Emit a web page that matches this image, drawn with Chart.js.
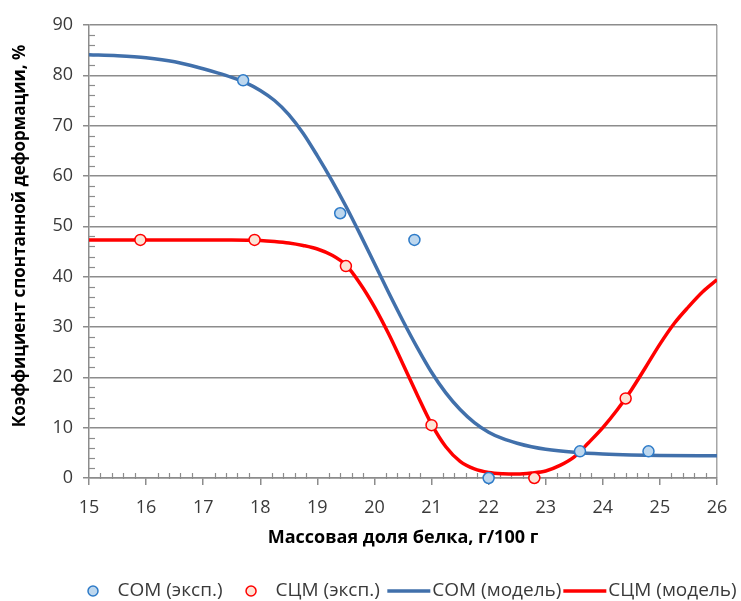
<!DOCTYPE html>
<html><head><meta charset="utf-8">
<script src="https://cdn.jsdelivr.net/npm/chart.js@4.4.1/dist/chart.umd.min.js"></script>
<style>html,body{margin:0;padding:0;background:#fff}canvas{display:block}</style>
</head><body>
<canvas id="c" width="741" height="601"></canvas>
<script>
// ---- data ----
const xTickValues = [15,16,17,18,19,20,21,22,23,24,25,26];
const yTickValues = [0,10,20,30,40,50,60,70,80,90];
const seriesNames = ['СОМ (эксп.)','СЦМ (эксп.)','СОМ (модель)','СЦМ (модель)'];
const xTitle = 'Массовая доля белка, г/100 г';
const yTitle = 'Коэффициент спонтанной деформации, %';

const comExpX = [17.7, 19.4, 20.7, 22.0, 23.6, 24.8];
const comExpY = [79.0, 52.6, 47.3, 0.0, 5.3, 5.3];
const scmExpX = [15.9, 17.9, 19.5, 21.0, 22.8, 24.4];
const scmExpY = [47.3, 47.3, 42.1, 10.5, 0.0, 15.8];

const comModelX = [15,15.5,16,16.5,17,17.25,17.5,17.75,18,18.25,18.5,18.75,19,19.25,19.5,19.75,20,20.25,20.5,20.75,21,21.25,21.5,21.75,22,22.25,22.5,22.75,23,23.5,24,24.5,25,26];
const comModelY = [84.1,83.9,83.5,82.7,81.3,80.5,79.6,78.5,77.0,75.0,72.2,68.5,64.0,59.2,54.0,48.4,42.6,36.8,31.2,25.9,21.0,16.9,13.6,11.0,9.1,7.8,6.9,6.2,5.7,5.1,4.75,4.55,4.45,4.4];

const scmModelX = [15,16,17,17.5,18,18.25,18.5,18.75,19,19.25,19.5,19.75,20,20.25,20.5,20.75,21,21.25,21.5,21.75,22,22.25,22.5,22.75,23,23.25,23.5,23.75,24,24.25,24.5,24.75,25,25.25,25.5,25.75,26];
const scmModelY = [47.3,47.3,47.3,47.3,47.2,47.0,46.7,46.2,45.5,44.3,42.3,38.6,34.0,28.6,22.6,16.5,10.7,6.2,3.3,1.8,1.1,0.85,0.8,1.0,1.4,2.5,4.2,7.0,10.0,13.5,17.5,22.0,26.6,30.7,34.0,37.0,39.4];

const zip = (xs, ys) => xs.map((x, i) => ({x, y: ys[i]}));

// ---- styles ----
const FONT = "'Open Sans', 'Liberation Sans', sans-serif";
const AXIS_GRAY = '#8c8c8c';
const TEXT = '#3a3a3a';

const minorTicks = {
  id: 'minorTicks',
  beforeDatasetsDraw(chart) {
    const {ctx, scales: {x, y}} = chart;
    ctx.save();
    ctx.strokeStyle = AXIS_GRAY;
    ctx.lineWidth = 1.2;
    const y0 = y.getPixelForValue(0);
    for (let i = 0; i <= 55; i++) {
      if (i % 5 === 0) continue;
      const px = Math.round(x.getPixelForValue(15 + i * 0.2)) + 0.5;
      ctx.beginPath(); ctx.moveTo(px, y0 - 5); ctx.lineTo(px, y0 + 1); ctx.stroke();
    }
    const x0 = x.getPixelForValue(15);
    for (let v = 0; v <= 90; v += 2) {
      if (v % 10 === 0) continue;
      const py = Math.round(y.getPixelForValue(v)) + 0.5;
      ctx.beginPath(); ctx.moveTo(x0, py); ctx.lineTo(x0 + 6, py); ctx.stroke();
    }
    ctx.restore();
  }
};

const customText = {
  id: 'customText',
  afterDraw(chart) {
    const {ctx} = chart;
    ctx.save();
    // y title
    ctx.translate(20, 236);
    ctx.rotate(-Math.PI / 2);
    ctx.font = "bold 17px " + FONT;
    ctx.fillStyle = '#000';
    ctx.textAlign = 'center';
    ctx.textBaseline = 'middle';
    ctx.fillText(yTitle, 0, 0);
    ctx.restore();

    // legend
    ctx.save();
    ctx.font = "19px " + FONT;
    ctx.textBaseline = 'middle';
    ctx.textAlign = 'left';
    const ly = 591;
    const ds = chart.data.datasets;
    let cx = 93;
    for (let i = 0; i < 2; i++) {
      const d = ds[i];
      ctx.beginPath();
      ctx.arc(cx, ly, 5, 0, Math.PI * 2);
      ctx.fillStyle = d.pointBackgroundColor; ctx.fill();
      ctx.strokeStyle = d.pointBorderColor; ctx.lineWidth = 1.5; ctx.stroke();
      ctx.fillStyle = TEXT;
      const tx = cx + 24.5;
      ctx.fillText(d.label, tx, ly);
      const w = ctx.measureText(d.label).width;
      cx = tx + w + (i === 0 ? 28.5 : 7.5);
    }
    let lx = cx;
    for (let i = 2; i < 4; i++) {
      const d = ds[i];
      ctx.beginPath();
      ctx.moveTo(lx, ly); ctx.lineTo(lx + 43, ly);
      ctx.strokeStyle = d.borderColor; ctx.lineWidth = d.borderWidth; ctx.stroke();
      ctx.fillStyle = TEXT;
      const tx = lx + 45;
      ctx.fillText(d.label, tx, ly);
      lx = tx + ctx.measureText(d.label).width + 2;
    }
    ctx.restore();
  }
};

new Chart(document.getElementById('c'), {
  type: 'scatter',
  data: {
    datasets: [
      { label: seriesNames[0], data: zip(comExpX, comExpY), showLine: false, clip: false,
        pointRadius: 5.5, pointHoverRadius: 5.5, pointBackgroundColor: '#BDD7EE', pointBorderColor: '#2E7BC8', pointBorderWidth: 1.5, order: 0 },
      { label: seriesNames[1], data: zip(scmExpX, scmExpY), showLine: false, clip: false,
        pointRadius: 5.5, pointHoverRadius: 5.5, pointBackgroundColor: '#FCE4D6', pointBorderColor: '#FF0000', pointBorderWidth: 1.5, order: 0 },
      { label: seriesNames[2], data: zip(comModelX, comModelY), showLine: true,
        borderColor: '#4170AB', borderWidth: 3.5, pointRadius: 0, cubicInterpolationMode: 'monotone', order: 1 },
      { label: seriesNames[3], data: zip(scmModelX, scmModelY), showLine: true,
        borderColor: '#FF0000', borderWidth: 3.5, pointRadius: 0, cubicInterpolationMode: 'monotone', order: 1 }
    ]
  },
  options: {
    responsive: false,
    animation: false,
    events: [],
    layout: { padding: { left: 0, right: 24, top: 25, bottom: 0 } },
    plugins: { legend: { display: false }, tooltip: { enabled: false } },
    scales: {
      x: {
        type: 'linear', min: 15, max: 26,
        afterBuildTicks(s) { s.ticks = xTickValues.map(v => ({value: v})); },
        afterFit(s) { s.height = 123; },
        ticks: { font: { size: 18, family: FONT }, color: TEXT, padding: 12, maxRotation: 0 },
        grid: { drawOnChartArea: true, color: c => (c.tick && c.tick.value === 26) ? '#a6a6a6' : 'rgba(0,0,0,0)',
                tickColor: AXIS_GRAY, tickLength: 7, lineWidth: 1.5 },
        border: { color: AXIS_GRAY, width: 1.5 },
        title: { display: true, text: xTitle, color: '#000', font: { size: 18, weight: 'bold', family: FONT }, padding: { top: 0, bottom: 52 } }
      },
      y: {
        type: 'linear', min: 0, max: 90,
        afterBuildTicks(s) { s.ticks = yTickValues.map(v => ({value: v})); },
        afterFit(s) { s.width = 89; },
        ticks: { font: { size: 18, family: FONT }, color: TEXT, padding: 10 },
        grid: { color: AXIS_GRAY, tickColor: AXIS_GRAY, tickLength: 6, lineWidth: 1.5 },
        border: { color: AXIS_GRAY, width: 1.5 }
      }
    }
  },
  plugins: [minorTicks, customText]
});
</script>
</body></html>
